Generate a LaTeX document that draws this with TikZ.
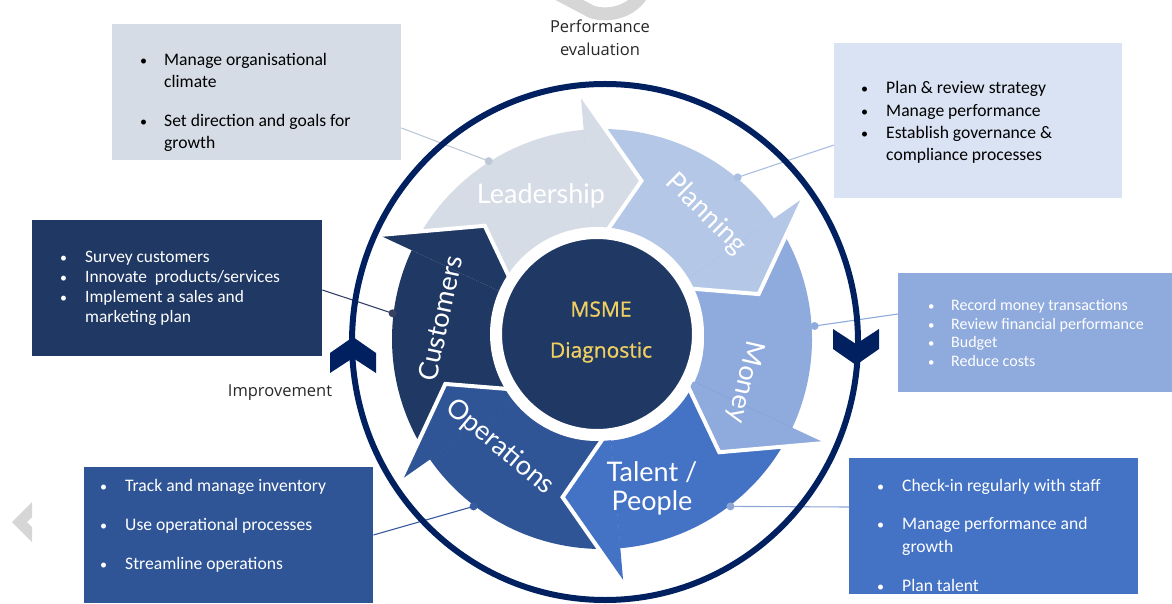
\documentclass[tikz,border=0pt]{standalone}
\usepackage{fontspec}
\setmainfont{Carlito}
\newfontfamily\lblfont{Lato}
\newfontfamily\uifont{Open Sans}
\newfontfamily\hubfont{Open Sans}[FakeBold=0.9]
\usetikzlibrary{calc}

\definecolor{leadc}{RGB}{214,220,229}
\definecolor{planc}{RGB}{180,199,231}
\definecolor{planboxc}{RGB}{218,227,243}
\definecolor{moneyc}{RGB}{143,170,220}
\definecolor{talc}{RGB}{68,114,196}
\definecolor{opsc}{RGB}{47,85,151}
\definecolor{custc}{RGB}{32,56,100}
\definecolor{ringc}{RGB}{0,32,96}
\definecolor{goldc}{RGB}{240,208,96}
\definecolor{greyt}{RGB}{40,40,40}
\definecolor{markc}{RGB}{214,214,214}
\definecolor{leadline}{RGB}{190,200,215}
\definecolor{planline}{RGB}{170,190,225}
\definecolor{custline}{RGB}{55,65,100}
\definecolor{moneyline}{RGB}{143,170,220}
\definecolor{opsline}{RGB}{55,90,160}
\definecolor{talline}{RGB}{140,165,215}

% bullet list: first column holds the bullet, second the text
\newcommand\blist[2]{\begin{tabular}[t]{@{}p{#1}@{}l@{}}#2\end{tabular}}
\newcommand\bt{\scalebox{0.8}{\textbullet}}

% curved band of one cycle arrow (colour, tail angle, head-base angle)
\newcommand\armbody[3]{%
  \fill[#1] (#2:210pt) arc[start angle=#2, end angle=#3, radius=210pt]
    -- (#3:102pt) arc[start angle=#3, end angle=#2, radius=102pt] -- cycle;}
% arrow head with a white edge that cuts the notch into the next band
\newcommand\armhead[2]{%
  \fill[#1] (#2:246pt) -- (#2-19:163pt) -- (#2:90pt) -- cycle;
  \draw[white, line width=4pt, line join=miter] (#2:246pt) -- (#2-19:163pt) -- (#2:90pt);}

\begin{document}
\begin{tikzpicture}[x=1pt, y=1pt,
  box/.style={rectangle, draw=none, inner sep=0pt, anchor=south west},
  listtext/.style={inner sep=0pt, anchor=base west, align=left},
  armlabel/.style={text=white, inner sep=0pt, align=center, font=\lblfont\fontsize{27}{29}\selectfont},
  conn/.style={line width=1.1pt},
  dot/.style={circle, inner sep=0pt, minimum size=8pt},
  caption/.style={text=greyt, inner sep=0pt, align=center, font=\uifont\fontsize{16.5}{23}\selectfont}]

\useasboundingbox (0,0) rectangle (1172,603);

% faint marks in the margins
\fill[markc] (12,81) -- (32,101) -- (32,86) -- (27,81) -- (32,76) -- (32,61) -- cycle;
\draw[markc, line width=13pt] (558,609) -- (592,591) .. controls (612,585) and (634,594) .. (642,609);

% text boxes
\node[box, fill=leadc, minimum width=289pt, minimum height=136pt] (leadbox) at (112,443) {};
\node[box, fill=planboxc, minimum width=288pt, minimum height=155pt] (planbox) at (834,405) {};
\node[box, fill=custc, minimum width=290pt, minimum height=136pt] (custbox) at (32,247) {};
\node[box, fill=moneyc, minimum width=274pt, minimum height=119pt] (moneybox) at (898,211) {};
\node[box, fill=opsc, minimum width=289pt, minimum height=136pt] (opsbox) at (84,0) {};
\node[box, fill=talc, minimum width=289pt, minimum height=136pt] (talbox) at (849,9) {};

\node[listtext, font=\fontsize{17.6}{22}\selectfont] (leadtxt) at (140,537)
  {\blist{24pt}{\bt & Manage organisational\\ & climate\\[17pt]
   \bt & Set direction and goals for\\ & growth}};
\node[listtext, font=\fontsize{17.6}{22.3}\selectfont] (plantxt) at (861,509)
  {\blist{25pt}{\bt & Plan \& review strategy\\ \bt & Manage performance\\
   \bt & Establish governance \&\\ & compliance processes}};
\node[listtext, text=white, font=\fontsize{17.4}{20}\selectfont] (custtxt) at (60,340)
  {\blist{25pt}{\bt & Survey customers\\ \bt & Innovate\ \ products/services\\
   \bt & Implement a sales and\\ & marketing plan}};
\node[listtext, text=white, font=\fontsize{16}{18.4}\selectfont] (moneytxt) at (928,292)
  {\blist{23pt}{\bt & Record money transactions\\ \bt & Review financial performance\\
   \bt & Budget\\ \bt & Reduce costs}};
\node[listtext, text=white, font=\fontsize{17.6}{22}\selectfont] (opstxt) at (100,112)
  {\blist{25pt}{\bt & Track and manage inventory\\[17pt] \bt & Use operational processes\\[17pt]
   \bt & Streamline operations}};
\node[listtext, text=white, font=\fontsize{17.6}{23}\selectfont] (taltxt) at (877,112)
  {\blist{25pt}{\bt & Check-in regularly with staff\\[15pt] \bt & Manage performance and\\ & growth\\[16pt]
   \bt & Plan talent}};

% cycle of six arrows, running clockwise
\begin{scope}[shift={(602,264)}]
  \armbody{leadc}{155}{95}
  \armbody{planc}{95}{35}
  \armbody{moneyc}{35}{-25}
  \armbody{talc}{-25}{-85}
  \armbody{opsc}{-85}{-145}
  \armbody{custc}{-145}{-205}
  \armhead{leadc}{95}
  \armhead{planc}{35}
  \armhead{moneyc}{-25}
  \armhead{talc}{-85}
  \armhead{opsc}{-145}
  \armhead{custc}{-205}
  \coordinate (dLead) at (122.5:211pt);
  \coordinate (dPlan) at (50:211pt);
  \coordinate (dMoney) at (3.5:213pt);
  \coordinate (dTal) at (-52.5:211pt);
  \coordinate (dOps) at (-127.5:211pt);
  \coordinate (dCust) at (173:211pt);
\end{scope}

% centre disc
\node[circle, fill=custc, draw=white, line width=12pt, minimum size=202pt, inner sep=0pt] (hub) at (597,269) {};
\node[text=goldc, align=center, inner sep=0pt, font=\hubfont\fontsize{21}{41}\selectfont] (hubtxt) at (601,271) {MSME\\Diagnostic};

% leader lines from the boxes to the arrows
\draw[conn, leadline] ($(leadbox.south east)+(0,32)$) -- (dLead);
\draw[conn, planline] ($(planbox.south west)+(0,53)$) -- (dPlan);
\draw[conn, custline] ($(custbox.south east)+(0,66)$) -- (dCust);
\draw[conn, moneyline] ($(moneybox.south west)+(0,78)$) -- (dMoney);
\draw[conn, opsline] ($(opsbox.south east)+(0,68)$) -- (dOps);
\draw[conn, talline] ($(talbox.south west)+(0,87)$) -- (dTal);
\node[dot, fill=leadline] (pLead) at (dLead) {};
\node[dot, fill=planline] (pPlan) at (dPlan) {};
\node[dot, fill=moneyline] (pMoney) at (dMoney) {};
\node[dot, fill=talline] (pTal) at (dTal) {};
\node[dot, fill=opsline] (pOps) at (dOps) {};
\node[dot, fill=custline] (pCust) at (dCust) {};

% outer evaluation loop with its direction marks
\draw[ringc, line width=6pt] (605,261) ellipse[x radius=253pt, y radius=258pt];
\fill[ringc] (353,266) -- (376,250) -- (376,230) -- (353,245) -- (330,230) -- (330,250) -- cycle;
\fill[ringc] (856,238) -- (879,254) -- (879,274) -- (856,259) -- (833,274) -- (833,254) -- cycle;

% arrow labels
\node[armlabel] (lLead) at (541,407) {Leadership};
\node[armlabel, rotate=-45] (lPlan) at (706,389) {Planning};
\node[armlabel, rotate=-103] (lMoney) at (745,221) {Money};
\node[armlabel] (lTal) at (652,115) {Talent /\\People};
\node[armlabel, rotate=-40] (lOps) at (500,156) {Operations};
\node[armlabel, rotate=78] (lCust) at (440,285) {Customers};

% captions
\node[caption] (perf) at (600,565) {Performance\\evaluation};
\node[caption] (impr) at (280,210) {Improvement};
\end{tikzpicture}
\end{document}
